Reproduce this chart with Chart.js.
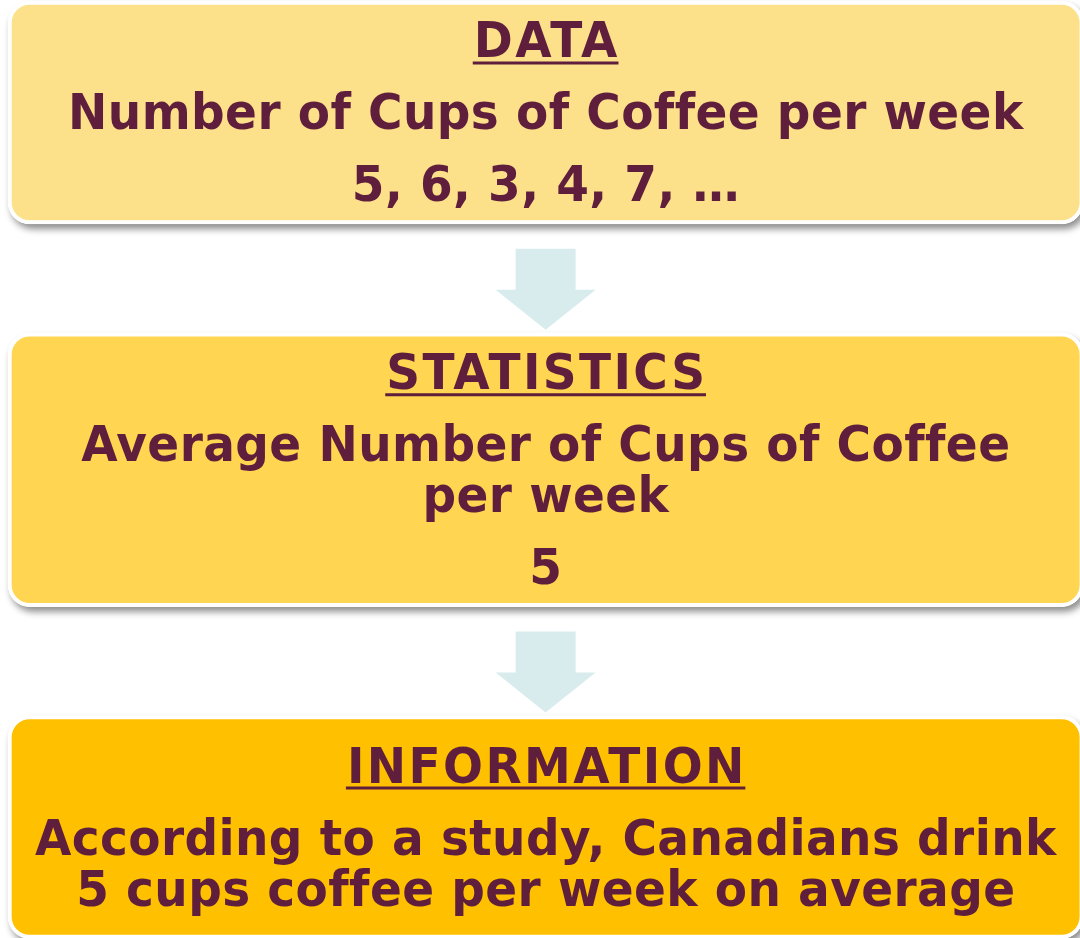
<!DOCTYPE html>
<html>
<head>
<meta charset="utf-8">
<title>Data, Statistics, Information</title>
<script src="https://cdn.jsdelivr.net/npm/chart.js@4.4.1/dist/chart.umd.min.js"></script>
<style>
  html, body { margin: 0; padding: 0; background: #fff; }
  #wrap { width: 1080px; height: 938px; position: relative; overflow: hidden; }
</style>
</head>
<body>
<div id="wrap"><canvas id="flow"></canvas></div>
<script>
// stages of the flow, top to bottom
const stageTitles = ["DATA", "STATISTICS", "INFORMATION"];
// body paragraphs for each stage, every paragraph split into its wrapped lines
const stageBodies = [
  [["Number of Cups of Coffee per week"], ["5, 6, 3, 4, 7, …"]],
  [["Average Number of Cups of Coffee", "per week"], ["5"]],
  [["According to a study, Canadians drink", "5 cups coffee per week on average"]]
];
const stageColors = ["#FDE18A", "#FFD551", "#FFC000"];

const TEXT = "#5E1E3C";
const ARROW = "#D8ECEE";
const FONT = 'bold 47px "DejaVu Sans", Verdana, sans-serif';
const PARA_GAP = 72, LINE_GAP = 51;

const lineCount = b => 1 + b.reduce((n, p) => n + p.length, 0);

// one dataset per stage so every box gets its own height
const datasets = stageTitles.map((t, i) => ({
  label: t,
  data: [{ x: 1, y: i }],
  backgroundColor: stageColors[i],
  borderColor: "#ffffff",
  borderWidth: 4,
  borderRadius: 22,
  borderSkipped: false,
  barThickness: 70 + 51 * lineCount(stageBodies[i]),
  grouped: false,
  clip: false
}));

const roundRect = (ctx, x, y, w, h, r) => {
  ctx.beginPath();
  ctx.moveTo(x + r, y);
  ctx.arcTo(x + w, y, x + w, y + h, r);
  ctx.arcTo(x + w, y + h, x, y + h, r);
  ctx.arcTo(x, y + h, x, y, r);
  ctx.arcTo(x, y, x + w, y, r);
  ctx.closePath();
};

const boxOf = (chart, i) => {
  const el = chart.getDatasetMeta(i).data[0];
  return { left: el.base, right: el.x, top: el.y - el.height / 2, bottom: el.y + el.height / 2, cy: el.y };
};

// soft drop shadow under every box
const shadows = {
  id: "shadows",
  beforeDatasetsDraw(chart) {
    const ctx = chart.ctx;
    stageTitles.forEach((t, i) => {
      const b = boxOf(chart, i);
      ctx.save();
      ctx.shadowColor = "rgba(0,0,0,0.45)";
      ctx.shadowBlur = 7;
      ctx.shadowOffsetX = 3;
      ctx.shadowOffsetY = 5;
      ctx.fillStyle = "#ffffff";
      roundRect(ctx, b.left, b.top, b.right - b.left, b.bottom - b.top, 22);
      ctx.fill();
      ctx.restore();
    });
  }
};

// down arrows between stages
const arrows = {
  id: "arrows",
  beforeDatasetsDraw(chart) {
    const ctx = chart.ctx;
    for (let i = 0; i < stageTitles.length - 1; i++) {
      const n = boxOf(chart, i + 1);
      const cx = (n.left + n.right) / 2;
      const tip = n.top - 3, top = tip - 81, neck = tip - 40;
      ctx.save();
      ctx.fillStyle = ARROW;
      ctx.beginPath();
      ctx.moveTo(cx - 30, top);
      ctx.lineTo(cx + 30, top);
      ctx.lineTo(cx + 30, neck);
      ctx.lineTo(cx + 50, neck);
      ctx.lineTo(cx, tip);
      ctx.lineTo(cx - 50, neck);
      ctx.lineTo(cx - 30, neck);
      ctx.closePath();
      ctx.fill();
      ctx.restore();
    }
  }
};

// titles and body text, vertically centred in each box
const labels = {
  id: "labels",
  afterDatasetsDraw(chart) {
    const ctx = chart.ctx;
    stageTitles.forEach((title, i) => {
      const b = boxOf(chart, i);
      const cx = (b.left + b.right) / 2;
      const rows = [{ text: title, gap: 0, head: true }];
      stageBodies[i].forEach(p => p.forEach((l, k) => rows.push({ text: l, gap: k === 0 ? PARA_GAP : LINE_GAP })));
      const span = rows.reduce((s, r) => s + r.gap, 0);
      let y = b.cy + 17 - span / 2;
      ctx.save();
      ctx.font = FONT;
      ctx.fillStyle = TEXT;
      ctx.textAlign = "center";
      ctx.textBaseline = "alphabetic";
      rows.forEach(r => {
        y += r.gap;
        // titles sit wider; the small spacing on body text also stops the "ff" ligature
        ctx.letterSpacing = r.head ? "2.4px" : "0.4px";
        const shift = r.head ? 1.2 : 0.2;
        ctx.save();
        ctx.translate(cx + shift, y);
        ctx.scale(1, 1.06);
        ctx.fillText(r.text, 0, 0);
        ctx.restore();
        if (r.head) {
          const w = ctx.measureText(r.text).width - 2.4;
          ctx.fillRect(cx - w / 2 - 1, y + 4, w + 2, 3);
        }
      });
      ctx.restore();
    });
  }
};

new Chart(document.getElementById("flow"), {
  type: "bar",
  data: { labels: stageTitles, datasets },
  options: {
    indexAxis: "y",
    responsive: true,
    maintainAspectRatio: false,
    animation: false,
    events: [],
    layout: { padding: { left: 8, right: 0, top: 0, bottom: 0 } },
    scales: {
      x: { type: "linear", min: 0, max: 0.997, display: false },
      y: { type: "linear", min: -0.3149, max: 2.3107, reverse: true, offset: false, display: false }
    },
    plugins: { legend: { display: false }, tooltip: { enabled: false } }
  },
  plugins: [shadows, arrows, labels]
});
</script>
</body>
</html>
